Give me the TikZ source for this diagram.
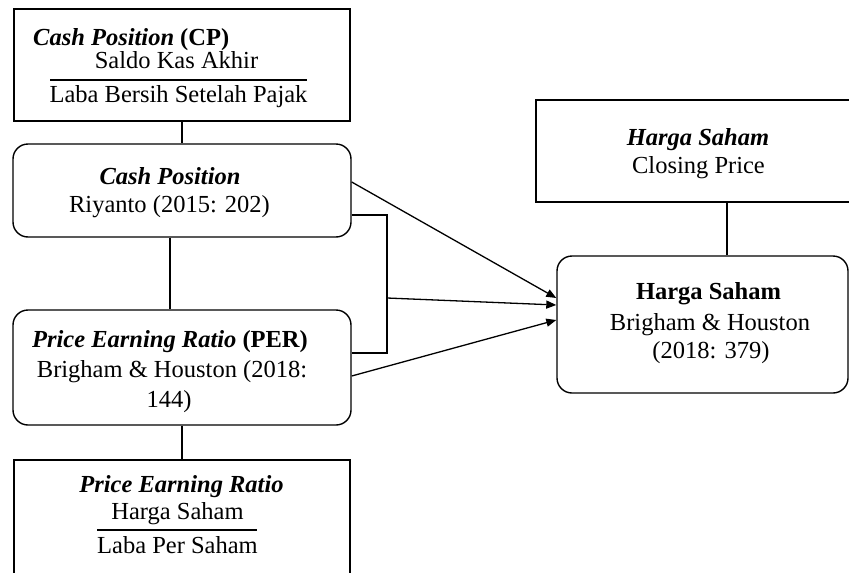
\documentclass[tikz,border=0pt]{standalone}
\usepackage{fontspec}
\setmainfont{Liberation Serif}
\usetikzlibrary{arrows.meta,calc}
\begin{document}
\begin{tikzpicture}[x=1pt,y=-1pt,
  box/.style={draw, line width=1.4pt, inner sep=0pt, minimum width=#1},
  rbox/.style={box=#1, rounded corners=15pt},
  txt/.style={inner sep=0pt, anchor=base, font=\fontsize{24.5}{28}\selectfont},
  conn/.style={line width=1.3pt},
  arr/.style={line width=1.3pt, -{Triangle[length=10pt,width=8pt]}}]
\useasboundingbox (0,0) rectangle (849,573);
\clip (0,0) rectangle (849,573);
% boxes
\node[box=336pt, minimum height=112pt] (cp) at (182,65) {};
\node[rbox=338pt, minimum height=93pt] (cash) at (182,190.5) {};
\node[rbox=338pt, minimum height=115pt] (per) at (182,367.5) {};
\node[box=336pt, minimum height=140pt] (pe) at (182,530) {};
\node[box=334pt, minimum height=102pt] (hs) at (703,151) {};
\node[rbox=291pt, minimum height=137pt] (hb) at (702.5,324.5) {};
% texts
\node[txt, anchor=base west] (cpt1) at (33,45) {\textbf{\textit{Cash Position}} \textbf{(CP)}};
\node[txt] (cpt2) at (176.5,68) {Saldo Kas Akhir};
\node[txt] (cpt3) at (178.5,102) {Laba Bersih Setelah Pajak};
\coordinate (cpl1) at (50,80);
\coordinate (cpl2) at (307,80);
\draw[conn] (cpl1) -- (cpl2);
\node[txt] (ct1) at (170,184) {\textbf{\textit{Cash Position}}};
\node[txt] (ct2) at (169.5,212) {Riyanto (2015: 202)};
\node[txt] (pt1) at (170,347) {\textbf{\textit{Price Earning Ratio}} \textbf{(PER)}};
\node[txt] (pt2) at (172,377) {Brigham \& Houston (2018:};
\node[txt] (pt3) at (169,407) {144)};
\node[txt] (et1) at (181.5,492) {\textbf{\textit{Price Earning Ratio}}};
\node[txt] (et2) at (177.5,519) {Harga Saham};
\node[txt] (et3) at (177.5,553) {Laba Per Saham};
\coordinate (pel1) at (97,530);
\coordinate (pel2) at (257,530);
\draw[conn] (pel1) -- (pel2);
\node[txt] (ht1) at (698,145) {\textbf{\textit{Harga Saham}}};
\node[txt] (ht2) at (698.5,173) {Closing Price};
\node[txt] (bt1) at (708.5,299) {\textbf{Harga Saham}};
\node[txt] (bt2) at (710,330) {Brigham \& Houston};
\node[txt] (bt3) at (711,358) {(2018: 379)};
% helper coordinates
\coordinate (y182) at (0,182);
\coordinate (y215) at (0,215);
\coordinate (y298) at (0,298);
\coordinate (y305) at (0,305);
\coordinate (y320) at (0,320);
\coordinate (y353) at (0,353);
\coordinate (y376) at (0,376);
\coordinate (x170) at (170,0);
\coordinate (x387) at (387,0);
\coordinate (x727) at (727,0);
\coordinate (brk) at (387,298);
% vertical connectors
\draw[conn] (cp.south) -- (cash.north);
\draw[conn] (cash.south -| x170) -- (per.north -| x170);
\draw[conn] (per.south) -- (pe.north);
\draw[conn] (hs.south -| x727) -- (hb.north -| x727);
% bracket
\draw[conn] (cash.east |- y215) -- (x387 |- y215) -- (x387 |- y353) -- (per.east |- y353);
% arrows
\draw[arr] (cash.east |- y182) -- (hb.west |- y298);
\draw[arr] (brk) -- (hb.west |- y305);
\draw[arr] (per.east |- y376) -- (hb.west |- y320);
\end{tikzpicture}
\end{document}
